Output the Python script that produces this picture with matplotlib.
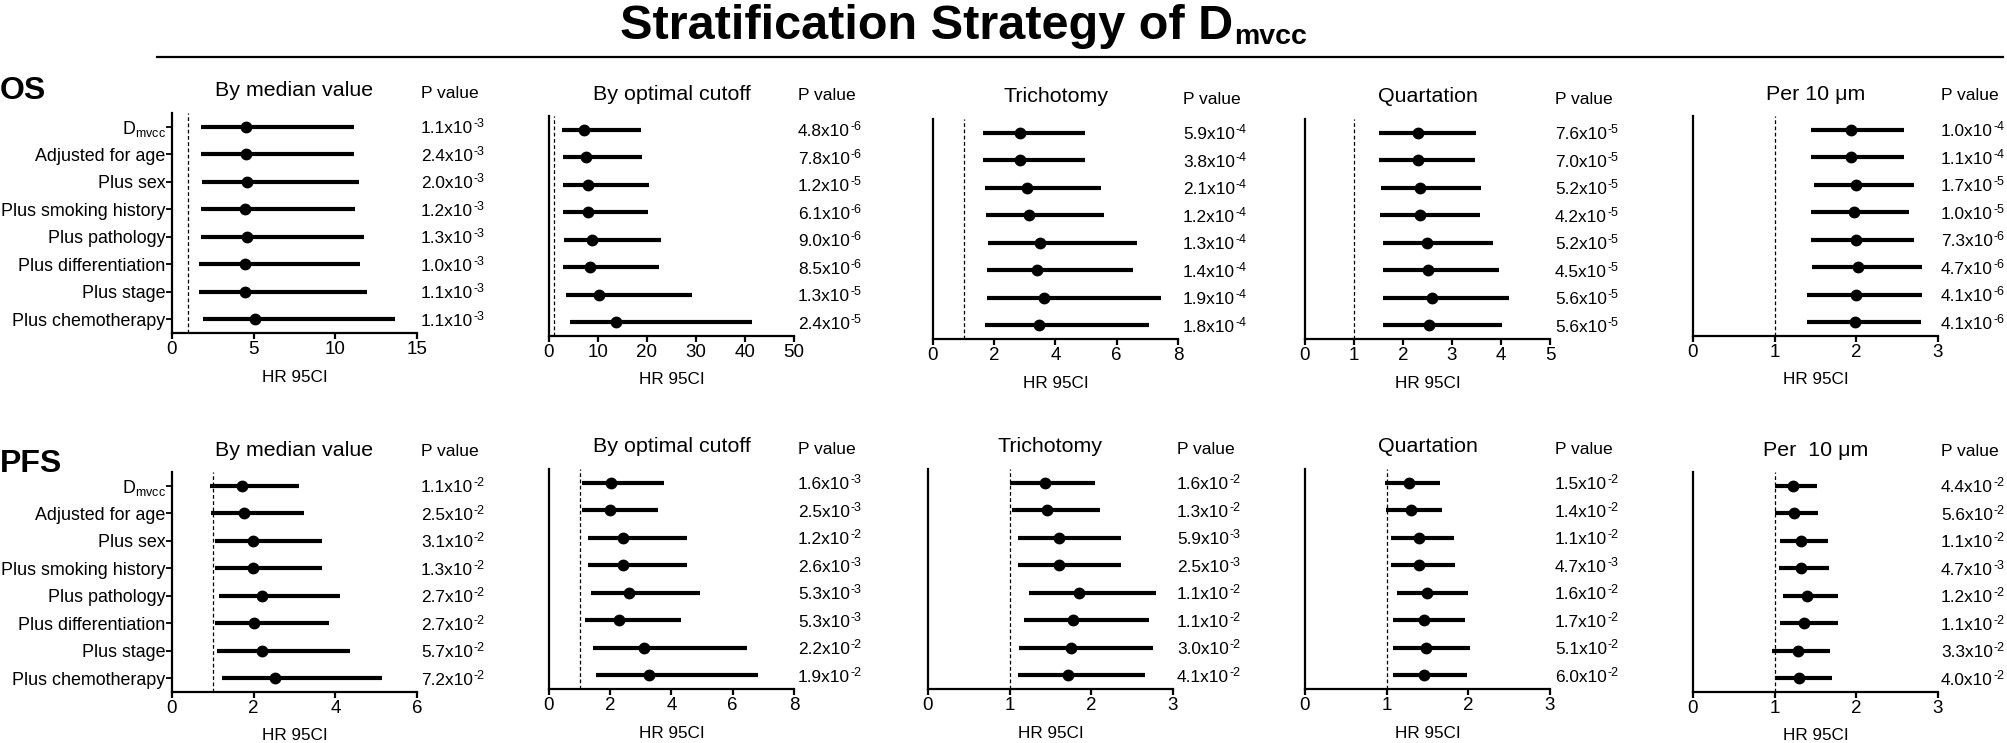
import matplotlib
matplotlib.use("Agg")
import matplotlib.pyplot as plt
from matplotlib.transforms import blended_transform_factory

plt.rcParams['font.family'] = ['Liberation Sans', 'DejaVu Sans']
plt.rcParams['mathtext.fontset'] = 'custom'
plt.rcParams['mathtext.rm'] = 'Liberation Sans'
plt.rcParams['mathtext.it'] = 'Liberation Sans:italic'
plt.rcParams['mathtext.bf'] = 'Liberation Sans:bold'

# ---------------- data ----------------
categories = [r'D$_{\mathrm{mvcc}}$', 'Adjusted for age', 'Plus sex', 'Plus smoking history',
              'Plus pathology', 'Plus differentiation', 'Plus stage', 'Plus chemotherapy']

panel_titles_os = ['By median value', 'By optimal cutoff', 'Trichotomy', 'Quartation', 'Per 10 μm']
panel_titles_pfs = ['By median value', 'By optimal cutoff', 'Trichotomy', 'Quartation', 'Per  10 μm']

# OS
os_median_hr = [4.51, 4.51, 4.59, 4.49, 4.59, 4.45, 4.49, 5.11]
os_median_lo = [1.77, 1.77, 1.81, 1.77, 1.77, 1.67, 1.65, 1.90]
os_median_hi = [11.16, 11.16, 11.46, 11.22, 11.75, 11.50, 11.95, 13.66]
os_median_pm = ['1.1', '2.4', '2.0', '1.2', '1.3', '1.0', '1.1', '1.1']
os_median_pe = [-3, -3, -3, -3, -3, -3, -3, -3]

os_cutoff_hr = [7.2, 7.5, 8.0, 8.0, 8.7, 8.4, 10.3, 13.6]
os_cutoff_lo = [2.7, 2.8, 2.9, 2.9, 3.1, 2.9, 3.4, 4.3]
os_cutoff_hi = [18.7, 18.9, 20.5, 20.3, 22.9, 22.4, 29.1, 41.4]
os_cutoff_pm = ['4.8', '7.8', '1.2', '6.1', '9.0', '8.5', '1.3', '2.4']
os_cutoff_pe = [-6, -6, -5, -6, -6, -6, -5, -5]

os_tri_hr = [2.85, 2.85, 3.08, 3.12, 3.49, 3.40, 3.64, 3.46]
os_tri_lo = [1.62, 1.62, 1.69, 1.72, 1.81, 1.76, 1.76, 1.69]
os_tri_hi = [4.96, 4.97, 5.50, 5.58, 6.66, 6.54, 7.44, 7.04]
os_tri_pm = ['5.9', '3.8', '2.1', '1.2', '1.3', '1.4', '1.9', '1.8']
os_tri_pe = [-4, -4, -4, -4, -4, -4, -4, -4]

os_quart_hr = [2.31, 2.31, 2.35, 2.35, 2.48, 2.52, 2.59, 2.54]
os_quart_lo = [1.52, 1.52, 1.55, 1.54, 1.59, 1.59, 1.60, 1.59]
os_quart_hi = [3.48, 3.47, 3.59, 3.57, 3.84, 3.96, 4.16, 4.02]
os_quart_pm = ['7.6', '7.0', '5.2', '4.2', '5.2', '4.5', '5.6', '5.6']
os_quart_pe = [-5, -5, -5, -5, -5, -5, -5, -5]

os_per10_hr = [1.93, 1.93, 2.00, 1.97, 1.99, 2.02, 1.99, 1.98]
os_per10_lo = [1.45, 1.45, 1.48, 1.45, 1.45, 1.46, 1.39, 1.40]
os_per10_hi = [2.58, 2.58, 2.71, 2.64, 2.71, 2.81, 2.81, 2.79]
os_per10_pm = ['1.0', '1.1', '1.7', '1.0', '7.3', '4.7', '4.1', '4.1']
os_per10_pe = [-4, -4, -5, -5, -6, -6, -6, -6]

# PFS
pfs_median_hr = [1.72, 1.76, 1.98, 1.98, 2.20, 2.01, 2.20, 2.53]
pfs_median_lo = [0.93, 0.96, 1.06, 1.06, 1.16, 1.05, 1.09, 1.22]
pfs_median_hi = [3.10, 3.23, 3.67, 3.67, 4.11, 3.84, 4.37, 5.15]
pfs_median_pm = ['1.1', '2.5', '3.1', '1.3', '2.7', '2.7', '5.7', '7.2']
pfs_median_pe = [-2, -2, -2, -2, -2, -2, -2, -2]

pfs_cutoff_hr = [2.03, 1.98, 2.43, 2.43, 2.61, 2.28, 3.10, 3.25]
pfs_cutoff_lo = [1.08, 1.08, 1.27, 1.27, 1.36, 1.16, 1.44, 1.54]
pfs_cutoff_hi = [3.76, 3.56, 4.49, 4.49, 4.93, 4.30, 6.48, 6.84]
pfs_cutoff_pm = ['1.6', '2.5', '1.2', '2.6', '5.3', '5.3', '2.2', '1.9']
pfs_cutoff_pe = [-3, -3, -2, -3, -3, -3, -2, -2]

pfs_tri_hr = [1.43, 1.46, 1.61, 1.61, 1.85, 1.78, 1.75, 1.71]
pfs_tri_lo = [1.00, 1.03, 1.10, 1.10, 1.24, 1.17, 1.12, 1.10]
pfs_tri_hi = [2.05, 2.10, 2.36, 2.36, 2.79, 2.70, 2.76, 2.66]
pfs_tri_pm = ['1.6', '1.3', '5.9', '2.5', '1.1', '1.1', '3.0', '4.1']
pfs_tri_pe = [-2, -2, -3, -3, -2, -2, -2, -2]

pfs_quart_hr = [1.27, 1.30, 1.39, 1.39, 1.50, 1.46, 1.48, 1.46]
pfs_quart_lo = [0.98, 0.99, 1.05, 1.05, 1.13, 1.08, 1.08, 1.08]
pfs_quart_hi = [1.65, 1.68, 1.83, 1.84, 2.00, 1.96, 2.02, 1.98]
pfs_quart_pm = ['1.5', '1.4', '1.1', '4.7', '1.6', '1.7', '5.1', '6.0']
pfs_quart_pe = [-2, -2, -2, -3, -2, -2, -2, -2]

pfs_per10_hr = [1.23, 1.24, 1.32, 1.32, 1.39, 1.36, 1.28, 1.30]
pfs_per10_lo = [1.00, 1.00, 1.06, 1.05, 1.10, 1.06, 0.97, 1.00]
pfs_per10_hi = [1.52, 1.53, 1.65, 1.66, 1.78, 1.77, 1.68, 1.70]
pfs_per10_pm = ['4.4', '5.6', '1.1', '4.7', '1.2', '1.1', '3.3', '4.0']
pfs_per10_pe = [-2, -2, -2, -3, -2, -2, -2, -2]

os_xmax = [15, 50, 8, 5, 3]
os_xticks = [[0, 5, 10, 15], [0, 10, 20, 30, 40, 50], [0, 2, 4, 6, 8], [0, 1, 2, 3, 4, 5], [0, 1, 2, 3]]
pfs_xmax = [6, 8, 3, 3, 3]
pfs_xticks = [[0, 2, 4, 6], [0, 2, 4, 6, 8], [0, 1, 2, 3], [0, 1, 2, 3], [0, 1, 2, 3]]

os_series = [
    (os_median_hr, os_median_lo, os_median_hi, os_median_pm, os_median_pe),
    (os_cutoff_hr, os_cutoff_lo, os_cutoff_hi, os_cutoff_pm, os_cutoff_pe),
    (os_tri_hr, os_tri_lo, os_tri_hi, os_tri_pm, os_tri_pe),
    (os_quart_hr, os_quart_lo, os_quart_hi, os_quart_pm, os_quart_pe),
    (os_per10_hr, os_per10_lo, os_per10_hi, os_per10_pm, os_per10_pe),
]
pfs_series = [
    (pfs_median_hr, pfs_median_lo, pfs_median_hi, pfs_median_pm, pfs_median_pe),
    (pfs_cutoff_hr, pfs_cutoff_lo, pfs_cutoff_hi, pfs_cutoff_pm, pfs_cutoff_pe),
    (pfs_tri_hr, pfs_tri_lo, pfs_tri_hi, pfs_tri_pm, pfs_tri_pe),
    (pfs_quart_hr, pfs_quart_lo, pfs_quart_hi, pfs_quart_pm, pfs_quart_pe),
    (pfs_per10_hr, pfs_per10_lo, pfs_per10_hi, pfs_per10_pm, pfs_per10_pe),
]

# ---------------- layout (pixels) ----------------
W, H = 2008, 743
AX_W, AX_H = 245, 220
os_left = [172, 549, 933, 1305, 1693]
os_top = [113, 116, 119, 119, 116]
os_pcol = [421, 798, 1183, 1555, 1941]
pfs_left = [172, 549, 928, 1305, 1693]
pfs_top = [472, 469, 469, 469, 472]
pfs_pcol = [421, 798, 1177, 1555, 1941]

fig = plt.figure(figsize=(W / 100, H / 100), dpi=100)

FS_TICK = 12.9
FS_PVAL = 12.4
FS_SUP = 9.0
FS_XT = 13.5
FS_TITLE = 15.4
FS_P = 12.6
FS_XL = 12.3


def fx(px):
    return px / W


def fy(py):
    return 1 - py / H


def draw_row(series, lefts, tops, pcols, xmaxs, xticks, titles):
    for k in range(5):
        hr, lo, hi, pm, pe = series[k]
        ax = fig.add_axes([fx(lefts[k]), fy(tops[k] + AX_H), AX_W / W, AX_H / H])
        y = list(range(len(categories)))
        ax.set_xlim(0, xmaxs[k])
        ax.set_ylim(len(categories) - 0.5, -0.5)
        ax.axvline(1, color='black', lw=0.9, ls=(0, (3, 2)), zorder=1)
        ax.hlines(y, lo, hi, color='black', lw=3.0, zorder=2)
        ax.plot(hr, y, 'o', color='black', ms=7.5, zorder=3)
        for s in ['top', 'right']:
            ax.spines[s].set_visible(False)
        for s in ['left', 'bottom']:
            ax.spines[s].set_linewidth(1.6)
        ax.set_xticks(xticks[k])
        ax.tick_params(axis='x', length=4, width=1.6, pad=2, labelsize=FS_XT)
        if k == 0:
            ax.set_yticks(y)
            ax.set_yticklabels(categories, fontsize=FS_TICK)
            ax.tick_params(axis='y', length=4, width=1.3, pad=0.5)
        else:
            ax.set_yticks([])
        ax.text(0.5, -44 / AX_H, 'HR 95CI', transform=ax.transAxes,
                ha='center', va='center', fontsize=FS_XL)
        # titles
        fig.text(fx(lefts[k] + AX_W / 2), fy(tops[k] - 22), titles[k],
                 ha='center', va='center', fontsize=FS_TITLE)
        fig.text(fx(pcols[k]), fy(tops[k] - 20), 'P value',
                 ha='left', va='center', fontsize=FS_P)
        tr = blended_transform_factory(fig.transFigure, ax.transData)
        for i in range(len(categories)):
            base = ax.text(fx(pcols[k]), y[i] + 0.24, f'{pm[i]}x10',
                           transform=tr, ha='left', va='baseline', fontsize=FS_PVAL)
            ax.annotate(f'-{abs(pe[i])}', xy=(1, 0.62), xycoords=base,
                        xytext=(0.3, 0), textcoords='offset points',
                        ha='left', va='baseline', fontsize=FS_SUP)


draw_row(os_series, os_left, os_top, os_pcol, os_xmax, os_xticks, panel_titles_os)
draw_row(pfs_series, pfs_left, pfs_top, pfs_pcol, pfs_xmax, pfs_xticks, panel_titles_pfs)

fig.text(fx(0), fy(91), 'OS', ha='left', va='center', fontsize=23, fontweight='bold')
fig.text(fx(0), fy(464), 'PFS', ha='left', va='center', fontsize=23, fontweight='bold')

title_main = fig.text(fx(620), fy(39), 'Stratification Strategy of D',
                      ha='left', va='baseline', fontsize=35, fontweight='bold')
fig.text(0, 0, '')
plt.annotate('mvcc', xy=(1, 0.1), xycoords=title_main,
             xytext=(1, 0), textcoords='offset points',
             ha='left', va='baseline', fontsize=20.5, fontweight='bold',
             annotation_clip=False)
fig.add_artist(plt.Line2D([fx(157), fx(2003)], [fy(57), fy(57)], color='black', lw=1.6))

fig.savefig('out.png', dpi=100)
